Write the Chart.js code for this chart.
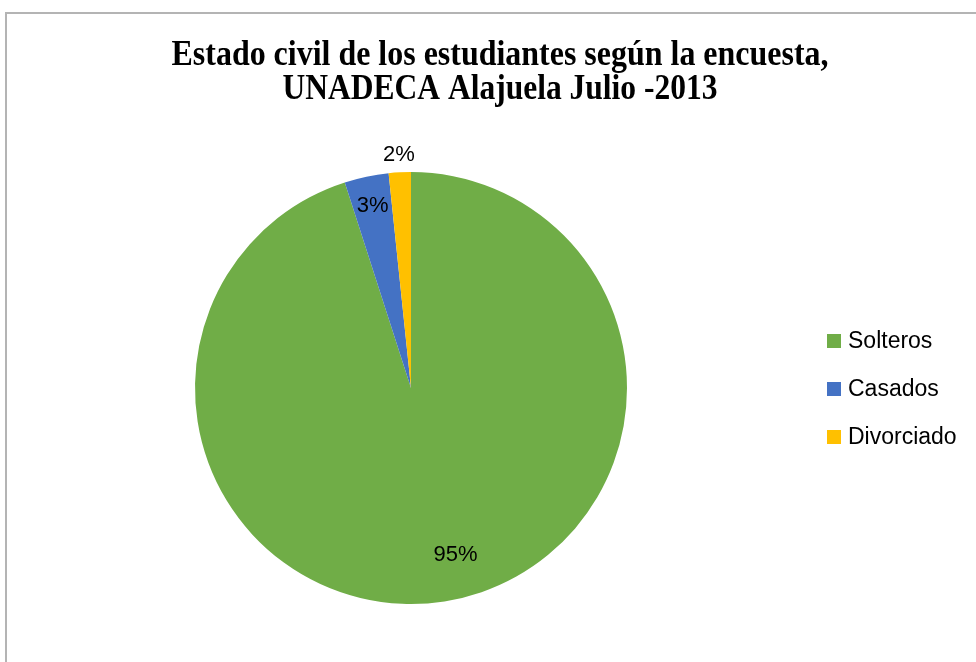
<!DOCTYPE html>
<html>
<head>
<meta charset="utf-8">
<script src="https://cdn.jsdelivr.net/npm/chart.js@4"></script>
<style>
  body { margin: 0; background: #fff; overflow: hidden; }
  #marco { position: absolute; left: 5px; top: 12px; width: 1000px; height: 700px; border: 2px solid #b4b4b4; }
  #caja { position: absolute; left: 0; top: 0; width: 976px; height: 662px; }
</style>
</head>
<body>
<div id="marco"></div>
<div id="caja"><canvas id="grafica"></canvas></div>
<script>
// Datos de la encuesta
const categorias = ['Solteros', 'Casados', 'Divorciado'];
const cantidades = [115, 4, 2];
const etiquetas = ['95%', '3%', '2%'];
const colores = ['#70AD47', '#4472C4', '#FFC000'];
const titulo = ['Estado civil de los estudiantes según la encuesta,', 'UNADECA Alajuela Julio -2013'];

// Titulo comprimido como en Excel
const tituloPlugin = {
  id: 'tituloPlugin',
  afterDraw(chart) {
    const ctx = chart.ctx;
    ctx.save();
    ctx.fillStyle = '#000';
    ctx.textAlign = 'center';
    ctx.textBaseline = 'alphabetic';
    ctx.font = 'bold 35px "Liberation Serif"';
    ctx.fillText(titulo[0], 500, 65, 657);
    ctx.fillText(titulo[1], 500, 99, 435);
    ctx.restore();
  }
};

// Etiquetas de porcentaje sobre cada porcion
const factores = [0.8, 0.86, 1.08];
const giros = [-6, 0, 0]; // grados
const etiquetasPlugin = {
  id: 'etiquetasPlugin',
  afterDatasetsDraw(chart) {
    const ctx = chart.ctx;
    const meta = chart.getDatasetMeta(0);
    ctx.save();
    ctx.fillStyle = '#000';
    ctx.font = '22px "Liberation Sans"';
    ctx.textAlign = 'center';
    ctx.textBaseline = 'middle';
    meta.data.forEach((arc, i) => {
      const p = arc.getProps(['x', 'y', 'startAngle', 'endAngle', 'outerRadius']);
      const ang = (p.startAngle + p.endAngle) / 2 + giros[i] * Math.PI / 180;
      const r = p.outerRadius * factores[i];
      ctx.fillText(etiquetas[i], p.x + Math.cos(ang) * r, p.y + Math.sin(ang) * r);
    });
    ctx.restore();
  }
};

// Leyenda a la derecha
const leyendaPlugin = {
  id: 'leyendaPlugin',
  afterDraw(chart) {
    const ctx = chart.ctx;
    ctx.save();
    ctx.font = '23px "Liberation Sans"';
    ctx.textBaseline = 'middle';
    ctx.textAlign = 'left';
    categorias.forEach((c, i) => {
      const y = 341 + i * 48;
      ctx.fillStyle = colores[i];
      ctx.fillRect(827, y - 7, 14, 14);
      ctx.fillStyle = '#000';
      ctx.fillText(c, 848, y + 1, 118);
    });
    ctx.restore();
  }
};

const ctx = document.getElementById('grafica').getContext('2d');
const myChart = new Chart(ctx, {
  type: 'pie',
  data: {
    labels: categorias,
    datasets: [{
      data: cantidades,
      backgroundColor: colores,
      borderWidth: 0
    }]
  },
  options: {
    responsive: true,
    maintainAspectRatio: false,
    animation: false,
    layout: { padding: { top: 172, bottom: 58, left: 195, right: 349 } },
    plugins: {
      legend: { display: false },
      title: { display: false },
      tooltip: { enabled: false }
    }
  },
  plugins: [tituloPlugin, etiquetasPlugin, leyendaPlugin]
});
</script>
</body>
</html>
